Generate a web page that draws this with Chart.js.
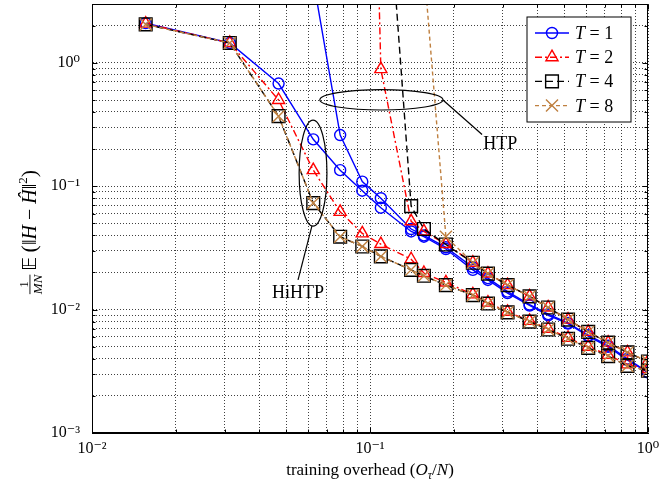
<!DOCTYPE html>
<html>
<head>
<meta charset="utf-8">
<script src="https://cdn.jsdelivr.net/npm/chart.js@4.4.0/dist/chart.umd.min.js"></script>
<style>
  html, body { margin: 0; padding: 0; background: #fff; }
</style>
</head>
<body>
<canvas id="myChart" width="661" height="487"></canvas>
<script>
// training overhead O_tau / N (x axis)
var overhead = [0.0156, 0.0313, 0.0469, 0.0625, 0.0781, 0.0938, 0.1094, 0.1406, 0.1563, 0.1875,
                0.2344, 0.2656, 0.3125, 0.375, 0.4375, 0.5156, 0.6094, 0.7188, 0.8438, 1.0];

// HiHTP curves
var hihtpT1 = [2.10, 1.45, 0.68, 0.24, 0.135, 0.092, 0.067, 0.043, 0.039, 0.031,
               0.021, 0.0174, 0.0136, 0.0108, 0.0090, 0.0077, 0.0061, 0.0050, 0.0039, 0.0031];
var hihtpT2 = [2.08, 1.45, 0.50, 0.135, 0.062, 0.0415, 0.034, 0.0256, 0.0198, 0.0166,
               0.0133, 0.0114, 0.0096, 0.0081, 0.0070, 0.0059, 0.0050, 0.0043, 0.0036, 0.0033];
var hihtpT4 = [2.05, 1.45, 0.37, 0.073, 0.039, 0.0325, 0.027, 0.021, 0.0188, 0.0158,
               0.0131, 0.0112, 0.0095, 0.0080, 0.0069, 0.0058, 0.0049, 0.0042, 0.0035, 0.0032];
var hihtpT8 = [2.05, 1.45, 0.37, 0.073, 0.039, 0.0325, 0.027, 0.021, 0.0188, 0.0158,
               0.0131, 0.0112, 0.0095, 0.0080, 0.0069, 0.0058, 0.0049, 0.0042, 0.0035, 0.0032];

// HTP curves (values far above the plot are clipped)
var htpT1 = [null, null, null, 4.7, 0.26, 0.109, 0.080, 0.045, 0.040, 0.032,
             0.022, 0.0180, 0.0140, 0.0110, 0.0092, 0.0078, 0.0062, 0.0051, 0.0040, 0.0031];
var htpT2 = [null, null, null, null, null, 1e6, 0.89, 0.052, 0.043, 0.034,
             0.024, 0.0196, 0.0158, 0.0128, 0.0104, 0.0083, 0.0066, 0.0054, 0.0045, 0.0038];
var htpT4 = [null, null, null, null, null, null, 150, 0.069, 0.045, 0.0337,
             0.024, 0.0196, 0.0158, 0.0128, 0.0104, 0.0083, 0.0066, 0.0054, 0.0045, 0.0038];
var htpT8 = [null, null, null, null, null, null, null, null, 6, 0.039,
             0.024, 0.0196, 0.0158, 0.0128, 0.0104, 0.0083, 0.0066, 0.0054, 0.0045, 0.0038];

var seriesNames = ['1', '2', '4', '8'];   // T = ...
var xMajor = [0.01, 0.1, 1];
var xTickLabels = ['10\u207B\u00B2', '10\u207B\u00B9', '10\u2070'];
var yMajor = [0.001, 0.01, 0.1, 1];
var yTickLabels = ['10\u207B\u00B3', '10\u207B\u00B2', '10\u207B\u00B9', '10\u2070'];

var serif = '"Liberation Serif", "DejaVu Serif", serif';

var styles = [
  { color: '#0000ff', dash: [], point: 'circle', radius: 5.5 },
  { color: '#ff0000', dash: [7, 3, 2, 3], point: 'triangle', radius: 7 },
  { color: '#000000', dash: [7, 4], point: 'rect', radius: 9 },
  { color: '#bf8040', dash: [4, 3], point: 'crossRot', radius: 8.5 }
];
var curves = [[htpT1, hihtpT1], [htpT2, hihtpT2], [htpT4, hihtpT4], [htpT8, hihtpT8]];

function toPoints(arr) {
  return overhead.map(function (x, i) { return { x: x, y: arr[i] }; });
}

var datasets = [];
// reversed so that T = 8 is painted last (on top)
for (var s = 3; s >= 0; s--) {
  for (var c = 0; c < 2; c++) {
    var st = styles[s];
    datasets.push({
      label: 'T = ' + seriesNames[s],
      data: toPoints(curves[s][c]),
      borderColor: st.color,
      borderWidth: 1.4,
      borderDash: st.dash,
      pointStyle: st.point,
      pointRadius: st.radius,
      pointBorderColor: st.color,
      pointBackgroundColor: 'rgba(0,0,0,0)',
      pointBorderWidth: 1.4,
      fill: false,
      tension: 0,
      spanGaps: false
    });
  }
}

function logTicks(min, max) {
  var out = [];
  for (var e = Math.floor(Math.log10(min)); e <= Math.ceil(Math.log10(max)); e++) {
    for (var m = 1; m < 10; m++) {
      var v = parseFloat((m * Math.pow(10, e)).toPrecision(6));
      if (v >= min * 0.999 && v <= max * 1.001) out.push({ value: v, major: m === 1 });
    }
  }
  return out;
}

function drawRuns(ctx, runs, cx, baseline) {
  var total = 0;
  runs.forEach(function (r) { ctx.font = r.font; r.w = ctx.measureText(r.t).width; total += r.w; });
  var x = cx - total / 2;
  runs.forEach(function (r) {
    ctx.font = r.font;
    ctx.fillText(r.t, x, baseline + (r.dy || 0));
    x += r.w;
  });
  return total;
}

var overlay = {
  id: 'overlay',
  afterLayout: function (chart) {
    // pin the plot top to 4px like the reference
    var a = chart.chartArea, ys = chart.scales.y, top = 4;
    if (Math.abs(a.top - top) > 0.01) {
      a.top = top;
      a.height = a.bottom - a.top;
      ys.top = top;
      ys.height = ys.bottom - ys.top;
      ys.configure();
    }
  },
  afterDraw: function (chart) {
    var ctx = chart.ctx, xs = chart.scales.x, ys = chart.scales.y, a = chart.chartArea;
    var L = Math.round(a.left) + 0.5, R = Math.round(a.right) - 0.5;
    var T = Math.round(a.top) + 0.5, B = Math.round(a.bottom) - 0.5;
    ctx.save();
    ctx.setLineDash([]);
    ctx.strokeStyle = '#000';
    ctx.lineWidth = 1;

    // inner tick marks on all four sides
    ctx.beginPath();
    xs.ticks.forEach(function (t) {
      var p = Math.round(xs.getPixelForValue(t.value)) + 0.5, len = t.major ? 5 : 3;
      ctx.moveTo(p, B); ctx.lineTo(p, B - len);
      ctx.moveTo(p, T); ctx.lineTo(p, T + len);
    });
    ys.ticks.forEach(function (t) {
      var p = Math.round(ys.getPixelForValue(t.value)) + 0.5, len = t.major ? 5 : 3;
      ctx.moveTo(L, p); ctx.lineTo(L + len, p);
      ctx.moveTo(R, p); ctx.lineTo(R - len, p);
    });
    ctx.stroke();
    ctx.strokeRect(L, T, R - L, B - T);

    // annotations: ellipses + leader lines
    function ell(x0, x1, y0, y1) {
      var px0 = xs.getPixelForValue(x0), px1 = xs.getPixelForValue(x1);
      var py0 = ys.getPixelForValue(y0), py1 = ys.getPixelForValue(y1);
      ctx.beginPath();
      ctx.ellipse((px0 + px1) / 2, (py0 + py1) / 2, Math.abs(px1 - px0) / 2, Math.abs(py1 - py0) / 2, 0, 0, Math.PI * 2);
      ctx.stroke();
    }
    function seg(x0, y0, x1, y1) {
      ctx.beginPath();
      ctx.moveTo(xs.getPixelForValue(x0), ys.getPixelForValue(y0));
      ctx.lineTo(xs.getPixelForValue(x1), ys.getPixelForValue(y1));
      ctx.stroke();
    }
    ctx.lineWidth = 1.2;
    ell(0.066, 0.183, 0.415, 0.607);
    seg(0.183, 0.50, 0.253, 0.263);
    ell(0.0556, 0.070, 0.0475, 0.343);
    seg(0.0618, 0.0475, 0.0551, 0.0174);

    ctx.fillStyle = '#000';
    ctx.textAlign = 'left';
    ctx.textBaseline = 'alphabetic';
    drawRuns(ctx, [{ t: 'HTP', font: '18px ' + serif }], xs.getPixelForValue(0.294), ys.getPixelForValue(0.226) + 6);
    drawRuns(ctx, [{ t: 'HiHTP', font: '18px ' + serif }], xs.getPixelForValue(0.0551), ys.getPixelForValue(0.0138) + 6);

    // legend
    var bx = R - 16.5, by = T + 12.5, bw = 104, bh = 105;
    ctx.fillStyle = '#fff';
    ctx.fillRect(bx - bw, by, bw, bh);
    ctx.lineWidth = 1;
    ctx.strokeStyle = '#000';
    ctx.strokeRect(bx - bw, by, bw, bh);
    for (var i = 0; i < 4; i++) {
      var st = styles[i];
      var yy = by + 16 + i * 24.2;
      var x0 = bx - bw + 8, x1 = x0 + 34;
      ctx.strokeStyle = st.color;
      ctx.lineWidth = 1.4;
      ctx.setLineDash(st.dash);
      ctx.beginPath(); ctx.moveTo(x0, yy); ctx.lineTo(x1, yy); ctx.stroke();
      ctx.setLineDash([]);
      ctx.fillStyle = 'rgba(0,0,0,0)';
      Chart.helpers.drawPoint(ctx, { pointStyle: st.point, radius: st.radius, borderWidth: 1.4, rotation: 0 }, (x0 + x1) / 2, yy);
      ctx.fillStyle = '#000';
      ctx.textAlign = 'left';
      ctx.font = 'italic 18px ' + serif;
      ctx.fillText('T', x1 + 6, yy + 6);
      var tw = ctx.measureText('T').width;
      ctx.font = '18px ' + serif;
      ctx.fillText(' = ' + seriesNames[i], x1 + 6 + tw, yy + 6);
    }

    // x axis title
    ctx.fillStyle = '#000';
    drawRuns(ctx, [
      { t: 'training overhead (', font: '17px ' + serif },
      { t: 'O', font: 'italic 17px ' + serif },
      { t: '\u03C4', font: 'italic 12px ' + serif, dy: 4 },
      { t: '/', font: '17px ' + serif },
      { t: 'N', font: 'italic 17px ' + serif },
      { t: ')', font: '17px ' + serif }
    ], (a.left + a.right) / 2, 475);

    // y axis title (rotated)
    ctx.save();
    ctx.translate(36, 232);
    ctx.rotate(-Math.PI / 2);
    var runs = [
      { t: ' ', font: '16px ' + serif },
      { t: '\uD835\uDD3C', font: '19px "DejaVu Sans", ' + serif },
      { t: '\u2009(', font: '22px ' + serif },
      { t: '\u2016', font: '20px ' + serif },
      { t: 'H', font: 'italic 20px ' + serif },
      { t: ' \u2212 ', font: '20px ' + serif },
      { t: '\u0124', font: 'italic 20px ' + serif },
      { t: '\u2016', font: '20px ' + serif },
      { t: '2', font: '13px ' + serif, dy: -9 },
      { t: ')', font: '22px ' + serif }
    ];
    ctx.font = 'italic 13px ' + serif;
    var fw = ctx.measureText('MN').width;
    var total = fw;
    runs.forEach(function (r) { ctx.font = r.font; r.w = ctx.measureText(r.t).width; total += r.w; });
    var x = -total / 2;
    // fraction 1 / MN
    ctx.font = '13px ' + serif;
    ctx.textAlign = 'center';
    ctx.fillText('1', x + fw / 2, -8);
    ctx.font = 'italic 13px ' + serif;
    ctx.fillText('MN', x + fw / 2, 6);
    ctx.fillRect(x, -6.5, fw, 0.9);
    ctx.textAlign = 'left';
    x += fw;
    runs.forEach(function (r) {
      ctx.font = r.font;
      ctx.fillText(r.t, x, r.dy || 0);
      x += r.w;
    });
    ctx.restore();

    ctx.restore();
  }
};

var chart = new Chart(document.getElementById('myChart'), {
  type: 'line',
  data: { datasets: datasets },
  options: {
    responsive: false,
    animation: false,
    devicePixelRatio: 1,
    layout: { padding: { top: 4, right: 13, left: 0, bottom: 0 } },
    plugins: { legend: { display: false }, tooltip: { enabled: false } },
    scales: {
      x: {
        type: 'logarithmic',
        min: 0.01,
        max: 1,
        afterBuildTicks: function (scale) { scale.ticks = logTicks(0.01, 1); },
        afterFit: function (scale) {
          scale.height = 54;
          scale.paddingLeft = 0; scale.paddingRight = 0;
        },
        ticks: {
          autoSkip: false,
          maxRotation: 0,
          padding: 6,
          color: '#000',
          font: { family: serif, size: 16 },
          callback: function (v) {
            for (var i = 0; i < xMajor.length; i++) if (Math.abs(v - xMajor[i]) < xMajor[i] * 1e-6) return xTickLabels[i];
            return '';
          }
        },
        grid: { color: 'rgba(0,0,0,0.75)', lineWidth: 1, drawTicks: false },
        border: { display: true, color: '#000', width: 1, dash: [1, 2] }
      },
      y: {
        type: 'logarithmic',
        min: 0.001,
        max: 3,
        afterBuildTicks: function (scale) { scale.ticks = logTicks(0.001, 3); },
        afterFit: function (scale) {
          scale.width = 92;
          scale.paddingTop = 0; scale.paddingBottom = 0;
        },
        ticks: {
          autoSkip: false,
          padding: 12,
          color: '#000',
          font: { family: serif, size: 16 },
          callback: function (v) {
            for (var i = 0; i < yMajor.length; i++) if (Math.abs(v - yMajor[i]) < yMajor[i] * 1e-6) return yTickLabels[i];
            return '';
          }
        },
        grid: { color: 'rgba(0,0,0,0.75)', lineWidth: 1, drawTicks: false },
        border: { display: true, color: '#000', width: 1, dash: [1, 2] }
      }
    }
  },
  plugins: [overlay]
});
</script>
</body>
</html>
